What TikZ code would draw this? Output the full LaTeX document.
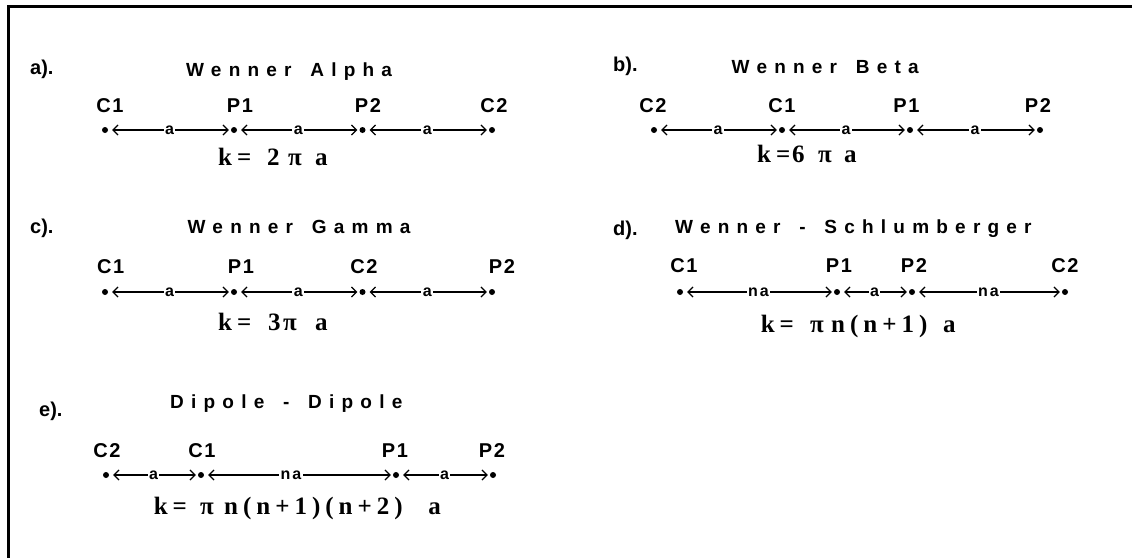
\documentclass[tikz,border=0pt]{standalone}
\usepackage{fontspec}
\setmainfont{Liberation Sans}
\newfontfamily\ttlfont[LetterSpace=38,WordSpace=1.5]{Liberation Sans}
\newfontfamily\lblfont[LetterSpace=8]{Liberation Sans}
\newfontfamily\arrfont[LetterSpace=12]{Liberation Sans}
\newfontfamily\frmfont[LetterSpace=20]{Liberation Serif}
\usetikzlibrary{arrows.meta}
\tikzset{
  ttl/.style={anchor=base west, inner sep=0pt, font=\ttlfont\bfseries\fontsize{19}{22}\selectfont},
  pre/.style={anchor=base west, inner sep=0pt, font=\bfseries\fontsize{20}{23}\selectfont},
  elab/.style={anchor=base, inner sep=0pt, font=\lblfont\bfseries\fontsize{20}{23}\selectfont},
  frm/.style={anchor=base west, inner sep=0pt, font=\frmfont\bfseries\fontsize{25}{28}\selectfont},
  dotn/.style={circle, fill=black, inner sep=0pt, minimum size=6pt},
  dim/.style={line width=1.2pt, {Straight Barb[length=5pt,width=10pt]}-{Straight Barb[length=5pt,width=10pt]}, shorten <=4pt, shorten >=2pt},
  alab/.style={fill=white, inner sep=1.5pt, font=\arrfont\bfseries\fontsize{16}{18}\selectfont},
  frame/.style={line width=3pt, line cap=butt}
}
\begin{document}
\begin{tikzpicture}[x=1pt,y=-1pt]
\useasboundingbox (0,0) rectangle (1132,557);
\coordinate (fbl) at (8,570);
\coordinate (ftl) at (8,6);
\coordinate (ftr) at (1145,6);
\draw[frame] (fbl) -- (ftl) -- (ftr);

% ---- a) Wenner Alpha
\node[pre] (pa) at (30,74) {a).};
\node[ttl] (ta) at (186,76) {Wenner Alpha};
\node[elab] (la1) at (110,112) {C1};
\node[elab] (la2) at (240,112) {P1};
\node[elab] (la3) at (368,112) {P2};
\node[elab] (la4) at (494,112) {C2};
\node[dotn] (a1) at (105,130) {};
\node[dotn] (a2) at (234,130) {};
\node[dotn] (a3) at (362.5,130) {};
\node[dotn] (a4) at (492,130) {};
\draw[dim] (a1) -- node[alab]{a} (a2);
\draw[dim] (a2) -- node[alab]{a} (a3);
\draw[dim] (a3) -- node[alab]{a} (a4);
\node[frm] (fa) at (218,165) {k=\hspace{15.85pt}2\hspace{8.5pt}π\hspace{13.25pt}a};

% ---- b) Wenner Beta
\node[pre] (pb) at (613,71) {b).};
\node[ttl] (tb) at (731.5,73) {Wenner Beta};
\node[elab] (lb1) at (653,112) {C2};
\node[elab] (lb2) at (782,112) {C1};
\node[elab] (lb3) at (906.5,112) {P1};
\node[elab] (lb4) at (1038,112) {P2};
\node[dotn] (b1) at (654,130) {};
\node[dotn] (b2) at (782,130) {};
\node[dotn] (b3) at (910,130) {};
\node[dotn] (b4) at (1040,130) {};
\draw[dim] (b1) -- node[alab]{a} (b2);
\draw[dim] (b2) -- node[alab]{a} (b3);
\draw[dim] (b3) -- node[alab]{a} (b4);
\node[frm] (fb) at (757,162) {k=\hspace{1.85pt}6\hspace{13.5pt}π\hspace{12.25pt}a};

% ---- c) Wenner Gamma
\node[pre] (pc) at (30,233) {c).};
\node[ttl] (tc) at (187.5,233) {Wenner Gamma};
\node[elab] (lc1) at (110.7,273) {C1};
\node[elab] (lc2) at (241,273) {P1};
\node[elab] (lc3) at (364,273) {C2};
\node[elab] (lc4) at (502,273) {P2};
\node[dotn] (c1) at (105,292) {};
\node[dotn] (c2) at (234,292) {};
\node[dotn] (c3) at (362.5,292) {};
\node[dotn] (c4) at (492,292) {};
\draw[dim] (c1) -- node[alab]{a} (c2);
\draw[dim] (c2) -- node[alab]{a} (c3);
\draw[dim] (c3) -- node[alab]{a} (c4);
\node[frm] (fc) at (218,330) {k=\hspace{16.85pt}3\hspace{2.5pt}π\hspace{18.25pt}a};

% ---- d) Wenner - Schlumberger
\node[pre] (pd) at (613,235) {d).};
\node[ttl] (td) at (675,233) {Wenner - Schlumberger};
\node[elab] (ld1) at (684,272) {C1};
\node[elab] (ld2) at (839,272) {P1};
\node[elab] (ld3) at (914,272) {P2};
\node[elab] (ld4) at (1065,272) {C2};
\node[dotn] (d1) at (680,292) {};
\node[dotn] (d2) at (837,292) {};
\node[dotn] (d3) at (912,292) {};
\node[dotn] (d4) at (1065,292) {};
\draw[dim] (d1) -- node[alab]{na} (d2);
\draw[dim] (d2) -- node[alab]{a} (d3);
\draw[dim] (d3) -- node[alab]{na} (d4);
\node[frm] (fd) at (760.6,332) {k=\hspace{16.25pt}π\hspace{7.25pt}n(n+1)\hspace{15.85pt}a};

% ---- e) Dipole - Dipole
\node[pre] (pe) at (39,416) {e).};
\node[ttl] (te) at (170,408) {Dipole - Dipole};
\node[elab] (le1) at (107,457) {C2};
\node[elab] (le2) at (202,457) {C1};
\node[elab] (le3) at (395,457) {P1};
\node[elab] (le4) at (492,457) {P2};
\node[dotn] (e1) at (106,475) {};
\node[dotn] (e2) at (201,475) {};
\node[dotn] (e3) at (396,475) {};
\node[dotn] (e4) at (493,475) {};
\draw[dim] (e1) -- node[alab]{a} (e2);
\draw[dim] (e2) -- node[alab, pos=0.46]{na} (e3);
\draw[dim] (e3) -- node[alab]{a} (e4);
\node[frm] (fe) at (153.6,514) {k=\hspace{13.25pt}π\hspace{10.25pt}n(n+1)(n+2)\hspace{25.6pt}a};
\end{tikzpicture}
\end{document}
